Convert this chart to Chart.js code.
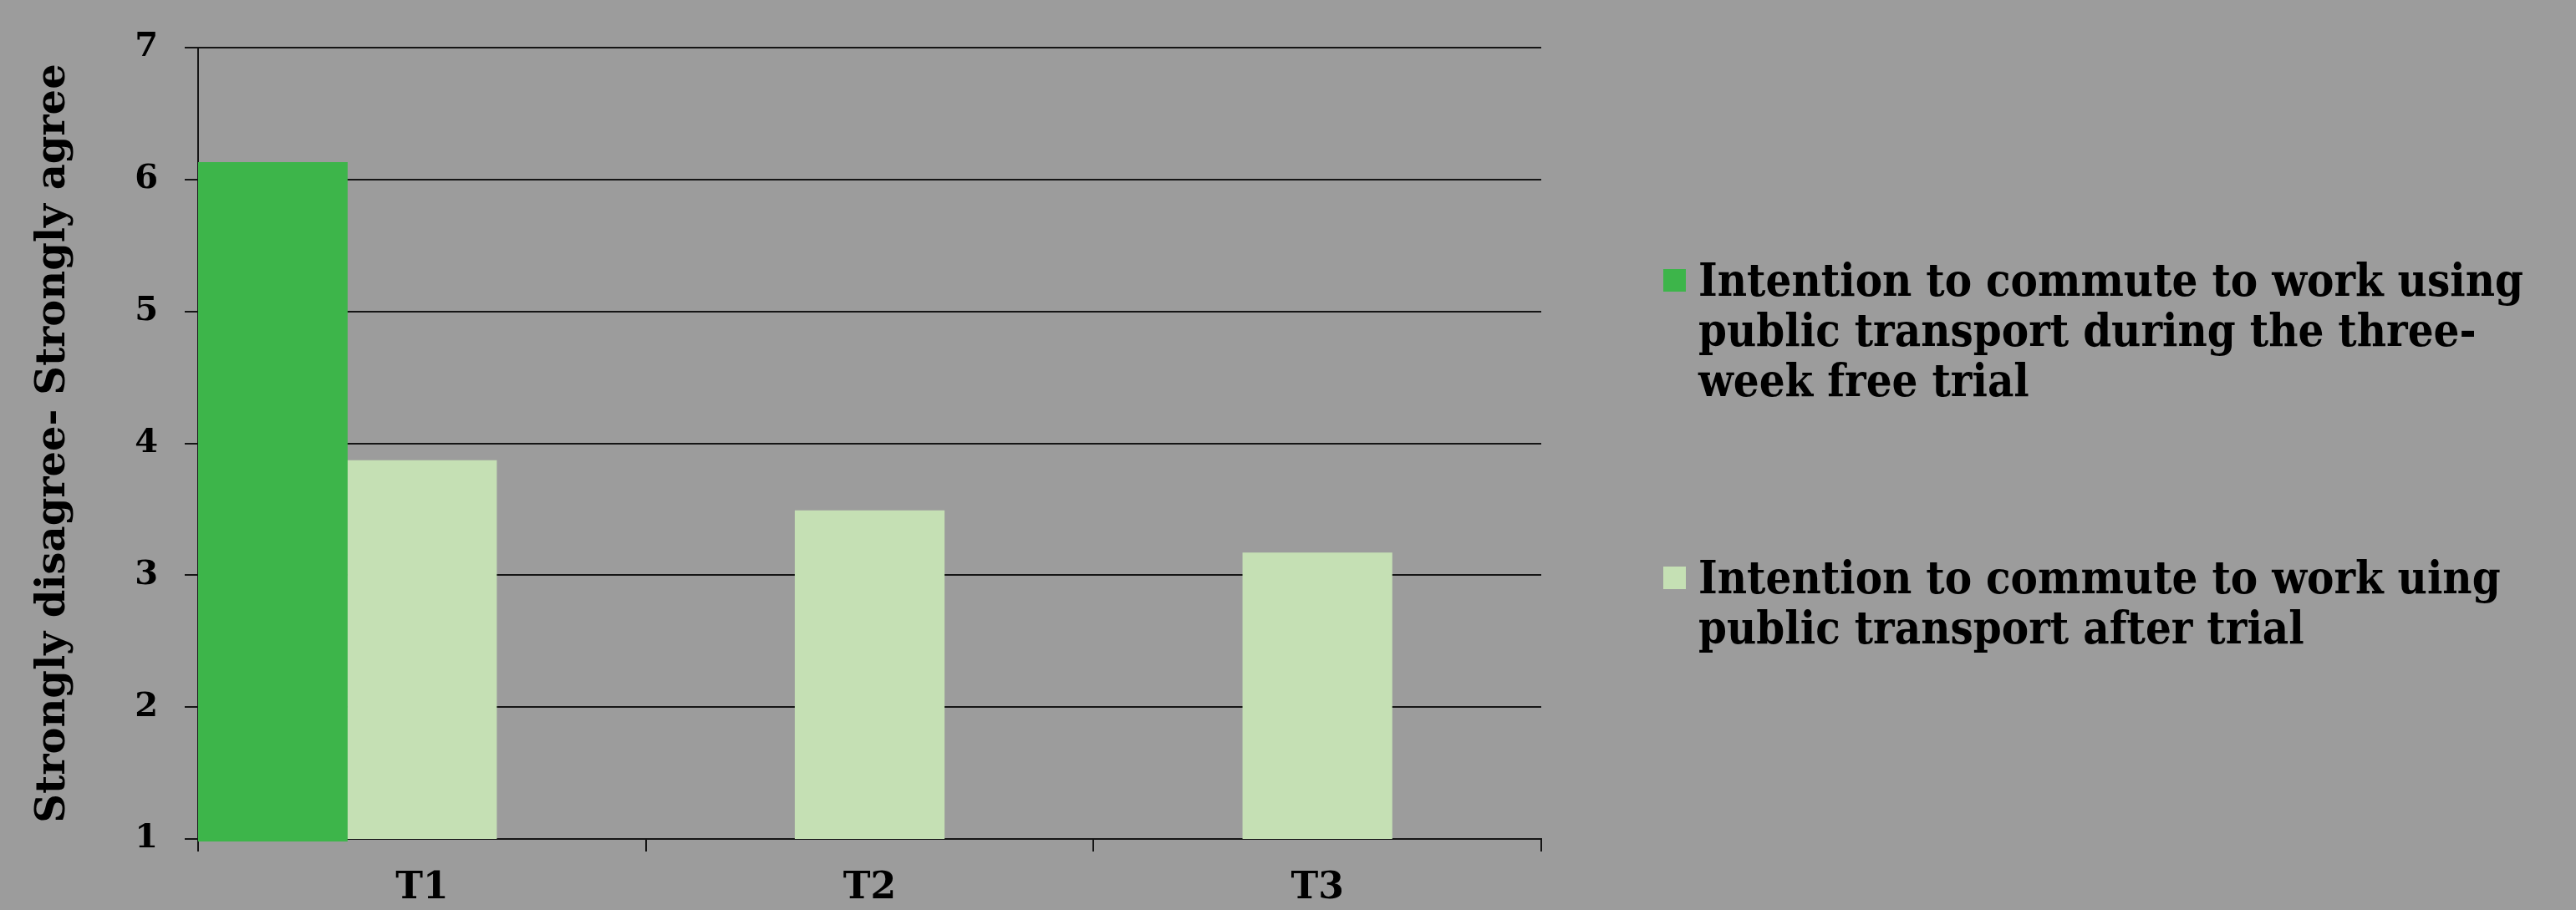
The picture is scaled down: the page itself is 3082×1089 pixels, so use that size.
<!DOCTYPE html>
<html>
<head>
<meta charset="utf-8">
<script src="https://cdn.jsdelivr.net/npm/chart.js@4.4.1/dist/chart.umd.min.js"></script>
<style>
  html, body { margin: 0; padding: 0; }
  body {
    width: 3082px; height: 1089px; overflow: hidden;
    background: #9c9c9c;
    position: relative;
  }
  #wrap { position: absolute; left: 0; top: 0; width: 3082px; height: 1089px; }
  .legend-item {
    position: absolute; left: 1990px;
    display: flex; align-items: flex-start;
    font-family: "DejaVu Serif Condensed", "DejaVu Serif", serif;
    font-weight: bold; font-size: 54px; line-height: 60px; color: #000;
  }
  .legend-item .box { width: 27px; height: 27px; margin-top: 17px; margin-right: 15px; flex: none; }
</style>
</head>
<body>
<div id="wrap"><canvas id="chart" width="3082" height="1089"></canvas></div>
<div id="legend"></div>
<script>
// categories and values
const CATEGORIAS = ['T1', 'T2', 'T3'];
const DURANTE_TRIAL = [6.13, 0, 0];
const DEPOIS_TRIAL  = [3.87, 3.49, 3.17];
const Y_TICKS = [1, 2, 3, 4, 5, 6, 7];
const LEGENDA_DURANTE = ['Intention to commute to work using', 'public transport during the three-', 'week free trial'];
const LEGENDA_DEPOIS  = ['Intention to commute to work uing', 'public transport after trial'];
const TITULO_Y = 'Strongly disagree- Strongly agree';

const VERDE = '#3db54a';
const VERDE_CLARO = '#c5e0b4';
const LINHA = '#151515';
const FONTE = '"DejaVu Serif", serif';

const chart = new Chart(document.getElementById('chart'), {
  type: 'bar',
  data: {
    labels: CATEGORIAS,
    datasets: [
      { label: LEGENDA_DURANTE.join(' '), data: DURANTE_TRIAL, backgroundColor: VERDE, clip: { left: 0, top: 0, right: 0, bottom: 3 } },
      { label: LEGENDA_DEPOIS.join(' '),  data: DEPOIS_TRIAL,  backgroundColor: VERDE_CLARO },
      // empty third slot, the original leaves a gap after each pair
      { label: '', data: CATEGORIAS.map(() => null), backgroundColor: 'transparent' },
    ],
  },
  options: {
    responsive: false,
    animation: false,
    categoryPercentage: 1,
    barPercentage: 1,
    layout: { padding: { top: 57, right: 1238, bottom: 0, left: 0 } },
    plugins: { legend: { display: false }, tooltip: { enabled: false } },
    scales: {
      x: {
        offset: true,
        grid: { offset: true, drawOnChartArea: false, drawTicks: true, tickLength: 15, color: LINHA, lineWidth: 2 },
        border: { color: LINHA, width: 2 },
        ticks: { color: '#000', padding: 18, font: { family: FONTE, weight: 'bold', size: 44 } },
        afterFit: (s) => { s.height = 85; },
      },
      y: {
        min: 1,
        max: 7,
        afterBuildTicks: (s) => { s.ticks = Y_TICKS.map(v => ({ value: v })); },
        grid: { color: LINHA, lineWidth: 2, tickLength: 16 },
        border: { color: LINHA, width: 2 },
        ticks: { color: '#000', padding: 32, font: { family: FONTE, weight: 'bold', size: 40 } },
        title: {
          display: true,
          text: TITULO_Y,
          color: '#000',
          padding: { top: 36, bottom: 0 },
          font: { family: FONTE, weight: 'bold', size: 48 },
        },
        afterFit: (s) => { s.width = 237; },
      },
    },
  },
});

// html legend, two entries spread on the right side
const legenda = document.getElementById('legend');
[[LEGENDA_DURANTE, VERDE, 305], [LEGENDA_DEPOIS, VERDE_CLARO, 661]].forEach(([linhas, cor, topo]) => {
  const item = document.createElement('div');
  item.className = 'legend-item';
  item.style.top = topo + 'px';
  item.innerHTML = `<div class="box" style="background:${cor}"></div><div>${linhas.join('<br>')}</div>`;
  legenda.appendChild(item);
});
</script>
</body>
</html>
